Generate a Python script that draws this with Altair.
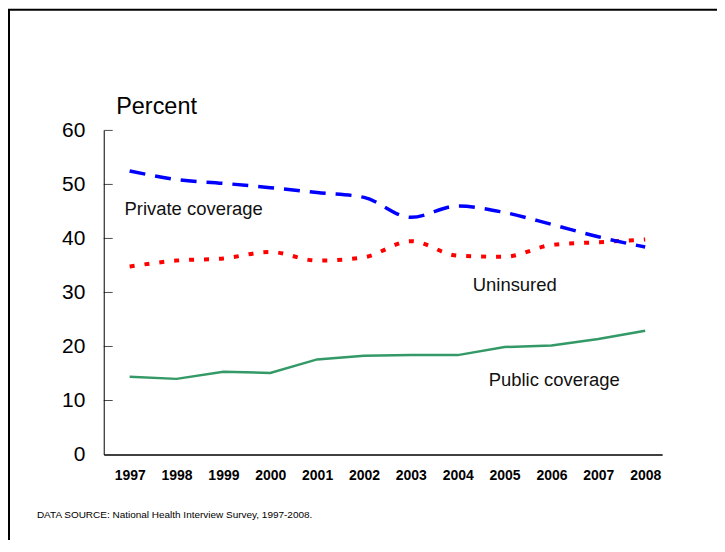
import altair as alt
import pandas as pd

years = [1997, 1998, 1999, 2000, 2001, 2002, 2003, 2004, 2005, 2006, 2007, 2008]
private_cov = [52.5, 50.9, 50.2, 49.4, 48.5, 47.6, 43.9, 46.0, 44.8, 42.6, 40.3, 38.4]
uninsured = [34.8, 35.9, 36.3, 37.5, 35.9, 36.5, 39.5, 36.8, 36.6, 38.8, 39.3, 39.8]
public_cov = [14.4, 14.0, 15.3, 15.1, 17.6, 18.3, 18.4, 18.4, 19.9, 20.2, 21.4, 22.9]

series_names = ["Private coverage", "Uninsured", "Public coverage"]
series_colors = ["#0000FF", "#FF0000", "#339966"]

y_ticks = [10, 20, 30, 40, 50, 60]

label_text = ["Private coverage", "Uninsured", "Public coverage"]
label_x = [1996.89, 2004.32, 2004.66]
label_y = [45.5, 31.4, 13.7]

source_text = "DATA SOURCE: National Health Interview Survey, 1997-2008."

FONT = "Liberation Sans"

rows = []
for name, vals in zip(series_names, [private_cov, uninsured, public_cov]):
    for yr, v in zip(years, vals):
        rows.append({"year": yr, "value": v, "series": name})
df = pd.DataFrame(rows)

x_scale = alt.Scale(domain=[1996.447, 2008.362], nice=False, zero=False)
y_scale = alt.Scale(domain=[0, 60], nice=False)

x_enc = alt.X(
    "year:Q",
    scale=x_scale,
    axis=alt.Axis(
        values=years,
        format="d",
        title=None,
        grid=False,
        ticks=False,
        labelFont=FONT,
        labelFontSize=14,
        labelFontWeight="bold",
        labelColor="black",
        labelPadding=14,
        domainColor="black",
        domainWidth=1.5,
    ),
)
y_enc = alt.Y(
    "value:Q",
    scale=y_scale,
    axis=alt.Axis(
        values=[0, 10, 20, 30, 40, 50, 60],
        title="Percent",
        titleAngle=0,
        titleAlign="left",
        titleBaseline="alphabetic",
        titleX=12,
        titleY=-17,
        titleFont=FONT,
        titleFontSize=23.5,
        titleFontWeight="normal",
        titleColor="black",
        grid=False,
        ticks=False,
        labelFont=FONT,
        labelFontSize=21,
        labelColor="black",
        labelPadding=19,
        domainColor="black",
        domainWidth=1,
    ),
)

color_scale = alt.Scale(domain=series_names, range=series_colors)

base = alt.Chart(df)

private_line = base.transform_filter(alt.datum.series == "Private coverage").mark_line(
    interpolate="monotone", strokeWidth=3.5, strokeDash=[16, 10]
).encode(x=x_enc, y=y_enc, color=alt.Color("series:N", scale=color_scale, legend=None))

unins_line = base.transform_filter(alt.datum.series == "Uninsured").mark_line(
    interpolate="monotone", strokeWidth=4, strokeDash=[5, 10]
).encode(x=x_enc, y=y_enc, color=alt.Color("series:N", scale=color_scale, legend=None))

public_line = base.transform_filter(alt.datum.series == "Public coverage").mark_line(
    strokeWidth=2.5
).encode(x=x_enc, y=y_enc, color=alt.Color("series:N", scale=color_scale, legend=None))

ticks = alt.Chart(pd.DataFrame({"t": y_ticks})).mark_tick(
    orient="horizontal", color="black", thickness=1, size=9
).encode(y=alt.Y("t:Q", scale=y_scale), x=alt.value(4.5))

labels = alt.Chart(pd.DataFrame({"x": label_x, "y": label_y, "text": label_text})).mark_text(
    align="left", baseline="middle", font=FONT, fontSize=18.5, color="#111111"
).encode(x=alt.X("x:Q", scale=x_scale), y=alt.Y("y:Q", scale=y_scale), text="text:N")

source = alt.Chart(pd.DataFrame({"text": [source_text]})).mark_text(
    align="left", baseline="middle", font=FONT, fontSize=10, color="black"
).encode(x=alt.value(-67), y=alt.value(386), text="text:N")

frame_left = alt.Chart(pd.DataFrame({"a": [0]})).mark_rule(color="black", strokeWidth=2).encode(
    x=alt.value(-95), y=alt.value(-121), y2=alt.value(420)
)
frame_top = alt.Chart(pd.DataFrame({"a": [0]})).mark_rule(color="black", strokeWidth=2).encode(
    x=alt.value(-96), x2=alt.value(640), y=alt.value(-121)
)

chart = alt.layer(
    frame_left, frame_top, ticks, public_line, unins_line, private_line, labels, source
).properties(
    width=560,
    height=325,
    background="white",
    autosize=alt.AutoSizeParams(type="none"),
    padding={"left": 96, "top": 122, "right": 55, "bottom": 85},
).configure_view(strokeWidth=0, stroke=None)

chart.save("out.html", embed_options={"renderer": "svg", "actions": False})
